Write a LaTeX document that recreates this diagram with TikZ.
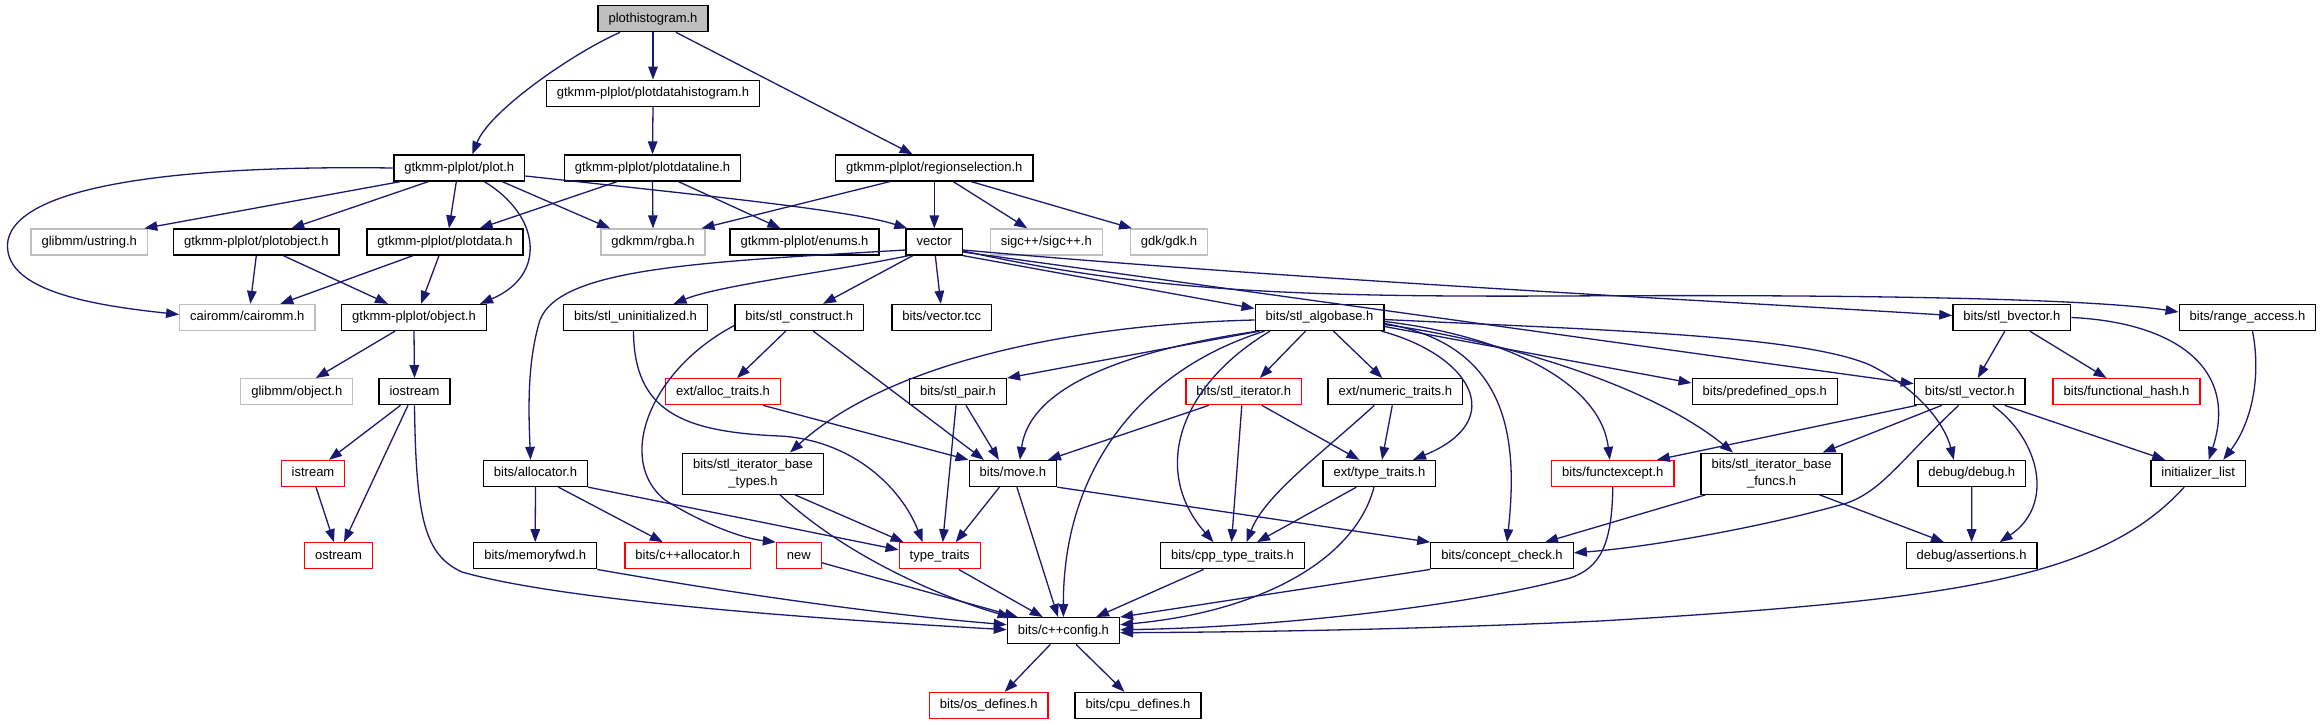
\documentclass[tikz,border=0pt]{standalone}
\usepackage{fontspec}
\setmainfont{Liberation Sans}
\usetikzlibrary{arrows.meta}
\definecolor{eblue}{RGB}{25,25,112}
\definecolor{lgrey}{RGB}{191,191,191}
\definecolor{rootfill}{RGB}{191,191,191}
\tikzset{
 box/.style={draw=black, line width=1.3pt, rectangle, inner xsep=10.5pt, inner ysep=0pt, minimum height=26pt, text height=9.5pt, text depth=2.8pt, font=\fontsize{13}{16}\selectfont},
 gbox/.style={box, draw=lgrey},
 rbox/.style={box, draw=red},
 root/.style={box, fill=rootfill},
 tbox/.style={draw=black, line width=1.3pt, rectangle, inner xsep=10.5pt, inner ysep=0pt, minimum height=41pt, align=center, font=\fontsize{13}{17}\selectfont},
 dep/.style={draw=eblue, line width=1.3pt, -{Triangle[length=13pt,width=9.5pt]}},
}
\begin{document}
\begin{tikzpicture}[x=1pt,y=-1pt]
\useasboundingbox (0,0) rectangle (2322,724);
% row 0-2
\node[root] (ph) at (653,18.7) {plothistogram.h};
\node[box] (pdh) at (653,93.3) {gtkmm-plplot/plotdatahistogram.h};
\node[box] (plot) at (459.3,168) {gtkmm-plplot/plot.h};
\node[box] (pdl) at (652.5,168) {gtkmm-plplot/plotdataline.h};
\node[box] (rs) at (934.3,168) {gtkmm-plplot/regionselection.h};
% row 3
\node[gbox] (ustr) at (89.3,242) {glibmm/ustring.h};
\node[box] (pobj) at (256.3,242) {gtkmm-plplot/plotobject.h};
\node[box] (pdata) at (445,242) {gtkmm-plplot/plotdata.h};
\node[gbox] (rgba) at (653,242) {gdkmm/rgba.h};
\node[box] (enums) at (804.5,242) {gtkmm-plplot/enums.h};
\node[box] (vec) at (934.3,242) {vector};
\node[gbox] (sigc) at (1046.3,242) {sigc++/sigc++.h};
\node[gbox] (gdk) at (1169,242) {gdk/gdk.h};
% row 4
\node[gbox] (cairo) at (247.3,317.5) {cairomm/cairomm.h};
\node[box] (obj) at (414,317.5) {gtkmm-plplot/object.h};
\node[box] (uninit) at (635.5,317.5) {bits/stl\_uninitialized.h};
\node[box] (constr) at (799.3,317.5) {bits/stl\_construct.h};
\node[box] (vtcc) at (941.8,317.5) {bits/vector.tcc};
\node[box] (algo) at (1319.5,317.5) {bits/stl\_algobase.h};
\node[box] (bvec) at (2011.8,317.5) {bits/stl\_bvector.h};
\node[box] (range) at (2247.5,317.5) {bits/range\_access.h};
% row 5
\node[gbox] (gobj) at (296.8,391.7) {glibmm/object.h};
\node[box] (ios) at (414.5,391.7) {iostream};
\node[rbox] (alloct) at (723,391.7) {ext/alloc\_traits.h};
\node[box] (pair) at (958,391.7) {bits/stl\_pair.h};
\node[rbox] (iter) at (1243.8,391.7) {bits/stl\_iterator.h};
\node[box] (numt) at (1395.3,391.7) {ext/numeric\_traits.h};
\node[box] (predef) at (1764.8,391.7) {bits/predefined\_ops.h};
\node[box] (svec) at (1969.7,391.7) {bits/stl\_vector.h};
\node[rbox] (fhash) at (2126.5,391.7) {bits/functional\_hash.h};
% row 6
\node[rbox] (istr) at (313,473.5) {istream};
\node[box] (alloc) at (535.5,473.5) {bits/allocator.h};
\node[tbox] (ibt) at (753,473.7) {bits/stl\_iterator\_base\\\_types.h};
\node[box] (move) at (1012.9,473.5) {bits/move.h};
\node[box] (extt) at (1379.4,473.5) {ext/type\_traits.h};
\node[rbox] (fexc) at (1612.8,473.5) {bits/functexcept.h};
\node[tbox] (ibf) at (1771.6,473.7) {bits/stl\_iterator\_base\\\_funcs.h};
\node[box] (dbg) at (1971.8,473.5) {debug/debug.h};
\node[box] (init) at (2198.2,473.5) {initializer\_list};
% row 7
\node[rbox] (ostr) at (338.5,555.8) {ostream};
\node[box] (mfwd) at (535.2,555.8) {bits/memoryfwd.h};
\node[rbox] (cxxa) at (687.8,555.8) {bits/c++allocator.h};
\node[rbox] (nnew) at (798.9,555.8) {new};
\node[rbox] (tt) at (939.7,555.8) {type\_traits};
\node[box] (cpptt) at (1232.5,555.8) {bits/cpp\_type\_traits.h};
\node[box] (cc) at (1502,555.8) {bits/concept\_check.h};
\node[box] (asrt) at (1971.6,555.8) {debug/assertions.h};
% row 8-9
\node[box] (cfg) at (1063.4,630.7) {bits/c++config.h};
\node[rbox] (osd) at (988.7,705.5) {bits/os\_defines.h};
\node[box] (cpu) at (1138,705.5) {bits/cpu\_defines.h};

% edges from top
\draw[dep] ([xshift=-33pt]ph.south) .. controls (575,52) and (490,110) .. ([xshift=13pt]plot.north);
\draw[dep] (ph.south) -- (pdh.north);
\draw[dep] ([xshift=23pt]ph.south) -- ([xshift=-21.6pt]rs.north);
\draw[dep] (pdh.south) -- (pdl.north);
\draw[dep] (plot.west) .. controls (180,165) and (20,185) .. (8,240) .. controls (0,290) and (90,305) .. ([yshift=3pt]cairo.west);
\draw[dep] ([xshift=-59pt]plot.south) -- ([xshift=55pt]ustr.north);
\draw[dep] ([xshift=-31pt]plot.south) -- ([xshift=35pt]pobj.north);
\draw[dep] ([xshift=-3pt]plot.south) -- ([xshift=4pt]pdata.north);
\draw[dep] ([xshift=25pt]plot.south) .. controls (540,215) and (548,275) .. ([xshift=66pt]obj.north);
\draw[dep] ([xshift=43pt]plot.south) -- ([xshift=-43pt]rgba.north);
\draw[dep] ([yshift=-8pt]plot.east) .. controls (700,195) and (850,210) .. ([xshift=-27pt]vec.north);
\draw[dep] ([xshift=-35.5pt]pdl.south) -- ([xshift=34.6pt]pdata.north);
\draw[dep] (pdl.south) -- (rgba.north);
\draw[dep] ([xshift=26pt]pdl.south) -- ([xshift=-24pt]enums.north);
\draw[dep] ([xshift=-44.6pt]rs.south) -- ([xshift=48.5pt]rgba.north);
\draw[dep] (rs.south) -- (vec.north);
\draw[dep] ([xshift=19pt]rs.south) -- ([xshift=-19pt]sigc.north);
\draw[dep] ([xshift=37pt]rs.south) -- ([xshift=-37pt]gdk.north);
\draw[dep] (pobj.south) -- ([xshift=3pt]cairo.north);
\draw[dep] ([xshift=27pt]pobj.south) -- ([xshift=-26pt]obj.north);
\draw[dep] ([xshift=-32pt]pdata.south) -- ([xshift=33pt]cairo.north);
\draw[dep] ([xshift=-6pt]pdata.south) -- ([xshift=7pt]obj.north);
\draw[dep] ([xshift=-19pt]obj.south) -- ([xshift=19pt]gobj.north);
\draw[dep] (obj.south) -- (ios.north);
\draw[dep] ([xshift=-14pt]ios.south) -- ([xshift=16pt]istr.north);
\draw[dep] ([xshift=-6.5pt]ios.south) -- ([xshift=5.5pt]ostr.north);
\draw[dep] (ios.south) .. controls (416,520) and (425,555) .. (462,572) .. controls (560,600) and (800,618) .. ([yshift=1pt]cfg.west);
\draw[dep] ([xshift=3pt]istr.south) -- ([xshift=-4.5pt]ostr.north);
% vector
\draw[dep] ([yshift=-8pt]vec.west) .. controls (700,262) and (560,268) .. (540,320) .. controls (526,365) and (529,420) .. ([xshift=-5pt]alloc.north);
\draw[dep] ([xshift=3pt]vec.south west) .. controls (830,272) and (720,285) .. ([xshift=38pt]uninit.north);
\draw[dep] ([xshift=-21.6pt]vec.south) -- ([xshift=23.7pt]constr.north);
\draw[dep] ([xshift=1pt]vec.south) -- ([xshift=-1pt]vtcc.north);
\draw[dep] (vec.south east) -- ([yshift=9pt]algo.west);
\draw[dep] ([yshift=-8pt]vec.east) .. controls (1300,280) and (1700,300) .. ([yshift=2pt]bvec.west);
\draw[dep] ([yshift=-9pt]vec.east) .. controls (1150,292) and (1300,297) .. (1560,296) .. controls (1900,294) and (2100,300) .. ([yshift=5.5pt]range.west);
\draw[dep] ([yshift=-10pt]vec.east) -- ([yshift=8pt]svec.west);
% stl_algobase
\draw[dep] ([yshift=-2.5pt]algo.west) .. controls (1050,325) and (880,370) .. ([xshift=37pt]ibt.north);
\draw[dep] ([xshift=-60pt]algo.south) -- (pair.north east);
\draw[dep] ([xshift=3pt]algo.south west) .. controls (1130,350) and (1030,385) .. ([xshift=7pt]move.north);
\draw[dep] ([xshift=-55pt]algo.south) .. controls (1140,370) and (1063,470) .. (cfg.north);
\draw[dep] ([xshift=-49.5pt]algo.south) .. controls (1180,385) and (1150,470) .. ([xshift=-19pt]cpptt.north);
\draw[dep] ([xshift=-14pt]algo.south) -- ([xshift=16pt]iter.north);
\draw[dep] ([xshift=14pt]algo.south) -- ([xshift=-13pt]numt.north);
\draw[dep] ([xshift=-3pt]algo.south east) .. controls (1470,355) and (1510,420) .. ([xshift=33.6pt]extt.north);
\draw[dep] ([yshift=-6pt]algo.east) .. controls (1510,345) and (1518,440) .. ([xshift=5pt]cc.north);
\draw[dep] ([yshift=-4pt]algo.east) .. controls (1500,335) and (1600,380) .. ([xshift=-3pt]fexc.north);
\draw[dep] ([yshift=-7pt]algo.east) .. controls (1500,340) and (1650,385) .. ([xshift=-38.6pt]ibf.north);
\draw[dep] ([yshift=-9pt]algo.east) -- ([yshift=8.7pt]predef.west);
\draw[dep] ([yshift=-2pt]algo.east) .. controls (1600,330) and (1800,335) .. (1870,365) .. controls (1920,390) and (1945,425) .. ([xshift=-18pt]dbg.north);
% bvector, range_access
\draw[dep] ([xshift=-7pt]bvec.south) -- ([xshift=8pt]svec.north);
\draw[dep] ([xshift=18pt]bvec.south) -- ([xshift=-20pt]fhash.north);
\draw[dep] (bvec.east) .. controls (2170,322) and (2240,365) .. ([xshift=10.5pt]init.north);
\draw[dep] ([xshift=5pt]range.south) .. controls (2262,380) and (2250,425) .. ([xshift=25pt]init.north);
% stl_vector
\draw[dep] ([xshift=3pt]svec.south west) -- ([xshift=44pt]fexc.north);
\draw[dep] ([xshift=-28pt]svec.south) -- ([xshift=51pt]ibf.north);
\draw[dep] ([xshift=-11pt]svec.south) .. controls (1900,460) and (1880,495) .. (1840,505) .. controls (1750,530) and (1640,548) .. ([yshift=3pt]cc.east);
\draw[dep] ([xshift=23pt]svec.south) .. controls (2040,440) and (2055,505) .. ([xshift=28pt]asrt.north);
\draw[dep] ([xshift=35pt]svec.south) -- ([xshift=-33pt]init.north);
% row 6 sources
\draw[dep] (dbg.south) -- (asrt.north);
\draw[dep] ([xshift=5pt]ibf.south west) -- ([xshift=43pt]cc.north);
\draw[dep] ([xshift=48pt]ibf.south) -- ([xshift=-27.6pt]asrt.north);
\draw[dep] (fexc.south) .. controls (1612,545) and (1600,568) .. (1570,578) .. controls (1450,610) and (1250,628) .. ([yshift=1pt]cfg.east);
\draw[dep] ([xshift=-14pt]init.south) .. controls (2100,580) and (1950,600) .. (1600,621) .. controls (1400,630) and (1250,632) .. ([yshift=-2pt]cfg.east);
\draw[dep] (cc.south west) -- (cfg.north east);
\draw[dep] ([xshift=-5.4pt]extt.south) .. controls (1355,560) and (1260,612) .. ([yshift=6pt]cfg.east);
\draw[dep] ([xshift=-23pt]extt.south) -- ([xshift=24.5pt]cpptt.north);
\draw[dep] ([xshift=-3pt]numt.south) -- ([xshift=2.6pt]extt.north);
\draw[dep] ([xshift=-21pt]numt.south) .. controls (1320,455) and (1265,495) .. ([xshift=14pt]cpptt.north);
\draw[dep] ([xshift=-35pt]iter.south) -- ([xshift=35pt]move.north);
\draw[dep] ([xshift=-2pt]iter.south) -- ([xshift=-1pt]cpptt.north);
\draw[dep] ([xshift=18pt]iter.south) -- ([xshift=-20pt]extt.north);
\draw[dep] ([xshift=8pt]pair.south) -- ([xshift=-14pt]move.north);
\draw[dep] ([xshift=-2pt]pair.south) -- ([xshift=3pt]tt.north);
\draw[dep] ([xshift=40pt]alloct.south) -- (move.north west);
\draw[dep] ([xshift=-13.6pt]constr.south) -- ([xshift=14pt]alloct.north);
\draw[dep] ([xshift=14pt]constr.south) -- ([xshift=-29pt]move.north);
\draw[dep] ([yshift=-8pt]constr.west) .. controls (650,370) and (615,460) .. (665,500) .. controls (700,522) and (740,538) .. (nnew.north west);
\draw[dep] ([xshift=-2pt]uninit.south) .. controls (634,410) and (680,432) .. (780,436) .. controls (850,440) and (900,485) .. ([xshift=-17pt]tt.north);
\draw[dep] (alloc.south) -- (mfwd.north);
\draw[dep] ([xshift=23pt]alloc.south) -- ([xshift=-25pt]cxxa.north);
\draw[dep] (alloc.south east) -- ([yshift=6pt]tt.west);
\draw[dep] ([xshift=42pt]ibt.south) -- ([xshift=5pt]tt.north west);
\draw[dep] ([xshift=27pt]ibt.south) .. controls (850,560) and (950,600) .. ([xshift=4pt]cfg.north west);
\draw[dep] (mfwd.south east) .. controls (760,598) and (900,616) .. ([yshift=6pt]cfg.west);
\draw[dep] ([yshift=-7pt]nnew.east) -- ([xshift=11pt]cfg.north west);
\draw[dep] ([xshift=19pt]tt.south) -- ([xshift=-20.6pt]cfg.north);
\draw[dep] ([xshift=-13.5pt]move.south) -- ([xshift=16pt]tt.north);
\draw[dep] ([xshift=4pt]move.south) -- ([xshift=-5.4pt]cfg.north);
\draw[dep] (move.south east) -- (cc.north west);
\draw[dep] ([xshift=-29pt]cpptt.south) -- ([xshift=32.6pt]cfg.north);
\draw[dep] ([xshift=-13pt]cfg.south) -- ([xshift=16pt]osd.north);
\draw[dep] ([xshift=12.6pt]cfg.south) -- ([xshift=-13.6pt]cpu.north);
\end{tikzpicture}
\end{document}
